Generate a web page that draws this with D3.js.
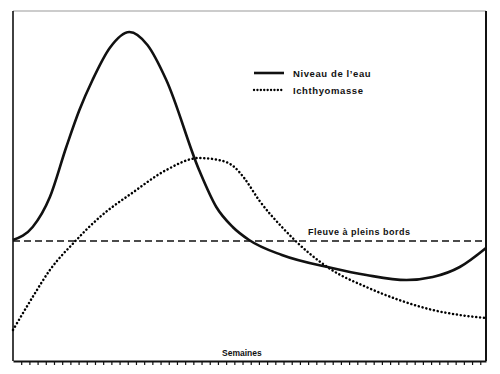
<!DOCTYPE html>
<html>
<head>
<meta charset="utf-8">
<script src="https://cdn.jsdelivr.net/npm/d3@7"></script>
<style>
  body { margin: 0; background: #fff; }
  text { font-family: "Liberation Sans", Arial, sans-serif; font-weight: bold; fill: #111; }
</style>
</head>
<body>
<div id="chart"></div>
<script>
// weeks (x) and relative levels (y, 0 = bottom of frame)
const weeks = [0, 2.4, 4.5, 6.5, 8.1, 9.7, 11.8, 14.2, 16.4, 18.7, 22.7, 24.8, 26.8, 28.8, 32.8, 38.9, 43.1, 48, 51.2, 54.5, 57.7];
const waterLevel = [121, 134, 164, 214, 251, 281, 313, 329, 316, 281, 191, 154, 134, 121, 106, 93, 86, 81, 84, 94, 113];

const fishWeeks = [0, 2.4, 4.5, 7.5, 10.6, 14.7, 18.7, 22.7, 25.1, 27, 28.2, 30, 32.8, 36.1, 38.9, 43.1, 47.1, 51.2, 54.5, 57.7];
const fishMass = [31, 64, 91, 119, 144, 169, 191, 203, 201, 194, 183, 161, 134, 108, 91, 74, 61, 51, 46, 43];

const bankfull = 120;
const tickWeeks = d3.range(1, 58);

const width = 500, height = 374;
const margin = {left: 13, right: 486, top: 11, bottom: 361};

const x = d3.scaleLinear().domain([0, 57.7]).range([margin.left, margin.right]);
const y = d3.scaleLinear().domain([0, 350]).range([margin.bottom, margin.top]);

const svg = d3.select('#chart').append('svg')
  .attr('width', width)
  .attr('height', height);

const line = d3.line().curve(d3.curveMonotoneX);

// frame
svg.append('line')
  .attr('x1', margin.left).attr('x2', margin.right).attr('y1', margin.top).attr('y2', margin.top)
  .attr('stroke', '#999').attr('stroke-width', 1);
svg.append('line')
  .attr('x1', margin.left).attr('x2', margin.left).attr('y1', margin.top).attr('y2', margin.bottom)
  .attr('stroke', '#111').attr('stroke-width', 1.6);
svg.append('line')
  .attr('x1', margin.right).attr('x2', margin.right).attr('y1', margin.top).attr('y2', margin.bottom)
  .attr('stroke', '#111').attr('stroke-width', 2);

// bottom axis with small ticks
svg.append('g')
  .attr('transform', `translate(0,${margin.bottom})`)
  .call(d3.axisBottom(x).tickValues(tickWeeks).tickSize(4).tickSizeOuter(0).tickFormat(''))
  .call(g => g.select('.domain').attr('stroke', '#111').attr('stroke-width', 1.8))
  .call(g => g.selectAll('.tick line').attr('stroke', '#111').attr('stroke-width', 1.2));

// bankfull line
svg.append('line')
  .attr('x1', x(0)).attr('x2', x(57.7))
  .attr('y1', y(bankfull)).attr('y2', y(bankfull))
  .attr('stroke', '#111').attr('stroke-width', 1.3)
  .attr('stroke-dasharray', '7,4');

// fish biomass (dotted)
svg.append('path')
  .attr('d', line(fishWeeks.map((w, i) => [x(w), y(fishMass[i])])))
  .attr('fill', 'none')
  .attr('stroke', '#000')
  .attr('stroke-width', 2.5)
  .attr('stroke-linecap', 'round')
  .attr('stroke-dasharray', '0.1,3.8');

// water level (solid)
svg.append('path')
  .attr('d', line(weeks.map((w, i) => [x(w), y(waterLevel[i])])))
  .attr('fill', 'none')
  .attr('stroke', '#111')
  .attr('stroke-width', 2.6);

// legend
const legend = svg.append('g');
legend.append('line')
  .attr('x1', 254).attr('x2', 284).attr('y1', 73).attr('y2', 73)
  .attr('stroke', '#111').attr('stroke-width', 2.6);
legend.append('line')
  .attr('x1', 254).attr('x2', 284).attr('y1', 90).attr('y2', 90)
  .attr('stroke', '#000').attr('stroke-width', 2.3)
  .attr('stroke-linecap', 'round')
  .attr('stroke-dasharray', '0.1,3.3');
legend.append('text')
  .attr('x', 293).attr('y', 77)
  .attr('font-size', 9.5).attr('letter-spacing', 0.6)
  .text('Niveau de l\u2019eau');
legend.append('text')
  .attr('x', 293).attr('y', 94)
  .attr('font-size', 9.5).attr('letter-spacing', 0.6)
  .text('Ichthyomasse');

svg.append('text')
  .attr('x', 308).attr('y', 235)
  .attr('font-size', 9).attr('letter-spacing', 0.5)
  .text('Fleuve à  pleins bords');

svg.append('text')
  .attr('x', 222).attr('y', 356)
  .attr('font-size', 8.5).attr('letter-spacing', 0)
  .text('Semaines');
</script>
</body>
</html>
